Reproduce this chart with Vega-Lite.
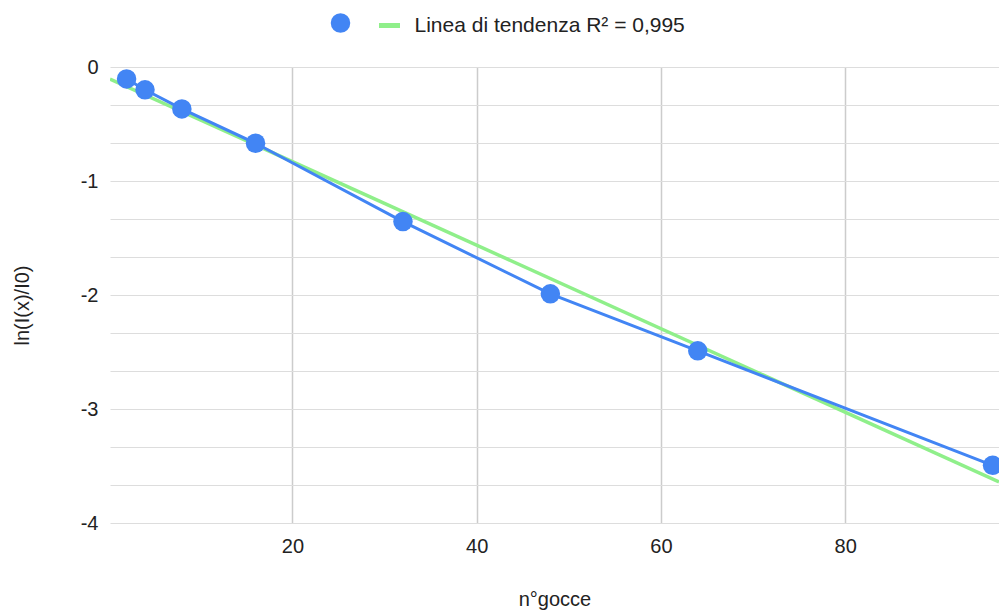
{
  "$schema": "https://vega.github.io/schema/vega-lite/v6.json",
  "width": 889,
  "height": 456,
  "autosize": {"type": "none"},
  "padding": {"left": 110, "top": 67, "right": 0, "bottom": 90},
  "background": "white",
  "config": {"view": {"stroke": null}, "font": "Liberation Sans"},
  "data": {
    "values": [
      {"x": 2, "y": -0.105},
      {"x": 4, "y": -0.2},
      {"x": 8, "y": -0.368},
      {"x": 16, "y": -0.669},
      {"x": 32, "y": -1.356},
      {"x": 48, "y": -1.99},
      {"x": 64, "y": -2.49},
      {"x": 96, "y": -3.494}
    ]
  },
  "encoding": {
    "x": {
      "field": "x",
      "type": "quantitative",
      "scale": {"domain": [0.2, 96.7], "nice": false, "zero": false},
      "axis": {
        "values": [20, 40, 60, 80],
        "title": "n°gocce",
        "titleFontSize": 20,
        "titleFontWeight": "normal",
        "titleColor": "#222222",
        "titleY": 82,
        "titleBaseline": "alphabetic",
        "labelFontSize": 20,
        "labelColor": "#222222",
        "labelPadding": 13,
        "ticks": false,
        "domain": false,
        "gridColor": "#cccccc",
        "gridWidth": 1.5
      }
    },
    "y": {
      "field": "y",
      "type": "quantitative",
      "scale": {"domain": [-4, 0], "nice": false, "zero": false},
      "axis": {
        "values": [-4, -3.6667, -3.3333, -3, -2.6667, -2.3333, -2, -1.6667, -1.3333, -1, -0.6667, -0.3333, 0],
        "labelExpr": "abs(datum.value - round(datum.value)) < 0.001 ? '' + round(datum.value) : ''",
        "title": "ln(I(x)/I0)",
        "titleFontSize": 20,
        "titleFontWeight": "normal",
        "titleColor": "#222222",
        "titleX": -88,
        "titleY": 238,
        "titleAngle": 270,
        "titleBaseline": "middle",
        "titleAlign": "center",
        "labelFontSize": 20,
        "labelColor": "#222222",
        "labelPadding": 12,
        "ticks": false,
        "domain": false,
        "encode": {
          "grid": {
            "update": {
              "stroke": {"signal": "abs(datum.value) < 0.001 ? '#333333' : (abs(datum.value - round(datum.value)) < 0.001 ? '#cccccc' : '#e6e6e6')"},
              "strokeWidth": {"signal": "abs(datum.value) < 0.001 ? 2.5 : 1.5"}
            }
          }
        }
      }
    }
  },
  "layer": [
    {
      "transform": [{"regression": "y", "on": "x", "extent": [0.2, 96.7]}],
      "mark": {"type": "line", "strokeWidth": 3.5, "clip": true},
      "encoding": {
        "color": {
          "datum": "Linea di tendenza R² = 0,995",
          "scale": {"domain": ["Linea di tendenza R² = 0,995"], "range": ["#8FEF8A"]},
          "legend": {
            "orient": "none",
            "legendX": 266.5,
            "legendY": -54.5,
            "title": null,
            "padding": 0,
            "labelFontSize": 21,
            "labelColor": "#222222",
            "labelLimit": 0,
            "labelOffset": 12,
            "symbolType": "stroke",
            "symbolSize": 441,
            "symbolStrokeWidth": 5,
            "symbolOpacity": 1
          }
        }
      }
    },
    {
      "mark": {"type": "line", "strokeWidth": 3, "color": "#4285F4"},
      "encoding": {}
    },
    {
      "mark": {"type": "point", "filled": true, "opacity": 1, "size": 380},
      "encoding": {
        "fill": {
          "datum": "",
          "scale": {"domain": [""], "range": ["#4285F4"]},
          "legend": {
            "orient": "none",
            "legendX": 220,
            "legendY": -54.5,
            "title": null,
            "padding": 0,
            "labelFontSize": 21,
            "labelLimit": 0,
            "symbolType": "circle",
            "symbolSize": 380,
            "symbolStrokeWidth": 0,
            "symbolOpacity": 1
          }
        }
      }
    }
  ]
}
